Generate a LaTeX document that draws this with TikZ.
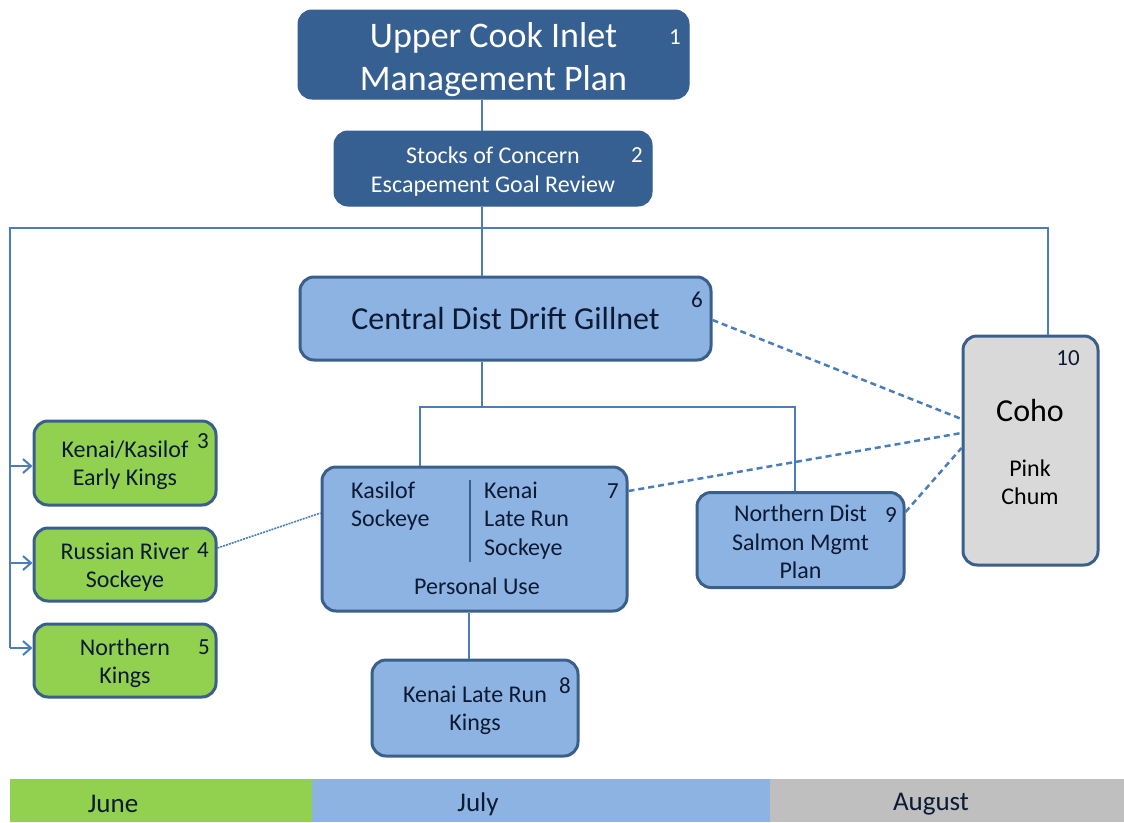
\documentclass[tikz,border=0pt]{standalone}
\usepackage{fontspec}
\setmainfont{Carlito}
\usetikzlibrary{arrows.meta}
\definecolor{dkblue}{HTML}{376092}
\definecolor{ltblue}{HTML}{8DB3E2}
\definecolor{bord}{HTML}{3A5F8B}
\definecolor{jgreen}{HTML}{92D050}
\definecolor{cgray}{HTML}{D9D9D9}
\definecolor{augray}{HTML}{BFBFBF}
\definecolor{conn}{HTML}{4A7EBB}
\definecolor{txt}{HTML}{0C1A33}
\begin{document}
\begin{tikzpicture}[x=1pt,y=-1pt,
  darkbox/.style={fill=dkblue, draw=dkblue, line width=1pt, rounded corners=14pt, inner sep=0pt},
  lbox/.style={fill=ltblue, draw=bord, line width=3pt, rounded corners=14pt, inner sep=0pt},
  gbox/.style={lbox, fill=jgreen},
  cbox/.style={lbox, fill=cgray},
  btxt/.style={inner sep=0pt, align=center, text=txt},
  wtxt/.style={btxt, text=white},
  small/.style={font=\fontsize{24}{28.5}\selectfont},
  num/.style={font=\fontsize{23}{26}\selectfont, inner sep=0pt},
  wnum/.style={num, text=white},
  dnum/.style={num, text=txt},
  conline/.style={draw=conn, line width=2pt},
  arr/.style={conline, -{Straight Barb[length=8pt,width=14pt,line width=2pt]}},
  dash1/.style={draw=conn, line width=2.5pt, dash pattern=on 6pt off 4pt},
  dash2/.style={draw=conn, line width=1.6pt, dash pattern=on 2pt off 1pt},
  mtext/.style={font=\fontsize{27}{30}\selectfont, text=txt, inner sep=0pt}
]
\useasboundingbox (0,0) rectangle (1124,822);

% boxes
\node[darkbox, minimum width=391, minimum height=89] (b1) at (493.5,54.5) {};
\node[darkbox, minimum width=318, minimum height=75] (b2) at (493,168.5) {};
\node[lbox, minimum width=411, minimum height=83] (b6) at (505.5,318.5) {};
\node[lbox, minimum width=305, minimum height=144] (b7) at (474.5,539) {};
\node[lbox, minimum width=206, minimum height=96] (b8) at (475,708) {};
\node[lbox, minimum width=207, minimum height=95] (b9) at (800.5,540) {};
\node[cbox, minimum width=135, minimum height=229] (b10) at (1030.5,450.5) {};
\node[gbox, minimum width=182, minimum height=84] (b3) at (125,463) {};
\node[gbox, minimum width=182, minimum height=73] (b4) at (125,564.5) {};
\node[gbox, minimum width=182, minimum height=73] (b5) at (125,660.5) {};

% box texts
\node[wtxt, font=\fontsize{36}{43}\selectfont] (b1t) at (493.5,59.5) {Upper Cook Inlet\\Management Plan};
\node[wtxt, small] (b2t) at (493,171.5) {Stocks of Concern\\Escapement Goal Review};
\node[btxt, font=\fontsize{32}{36}\selectfont] (b6t) at (505.5,319) {Central Dist Drift Gillnet};
\node[btxt, small] (b8t) at (475,710.5) {Kenai Late Run\\Kings};
\node[btxt, small] (b9t) at (800.5,542) {Northern Dist\\Salmon Mgmt\\Plan};
\node[btxt, small] (b3t) at (125,465) {Kenai/Kasilof\\Early Kings};
\node[btxt, small] (b4t) at (125,567) {Russian River\\Sockeye};
\node[btxt, small] (b5t) at (125,663) {Northern\\Kings};

% numbers
\node[wnum] (n1) at (675,37) {1};
\node[wnum] (n2) at (637,155) {2};
\node[dnum] (n6) at (697,300) {6};
\node[dnum] (n7) at (613,491) {7};
\node[dnum] (n8) at (565,686) {8};
\node[dnum] (n9) at (891,515) {9};
\node[dnum] (n10) at (1068,358) {10};
\node[dnum] (n3) at (203,441) {3};
\node[dnum] (n4) at (203,550) {4};
\node[dnum] (n5) at (204,647) {5};

% box 7 content
\node[small, text=txt, align=left, anchor=base west, inner sep=0pt] (k1) at (351,526.5) {Kasilof\\Sockeye};
\node[small, text=txt, align=left, anchor=base west, inner sep=0pt] (k2) at (484,555) {Kenai\\Late Run\\Sockeye};
\node[small, text=txt, inner sep=0pt, anchor=base] (pu) at (477,594) {Personal Use};
\coordinate (dv1) at (470,480);
\coordinate (dv2) at (470,562);
\draw[draw=bord, line width=2pt] (dv1) -- (dv2);

% box 10 content
\node[font=\fontsize{32}{36}\selectfont, text=black, inner sep=0pt] (coho) at (1030,410) {Coho};
\node[small, text=black, align=center, inner sep=0pt] (pc) at (1030,482) {Pink\\Chum};

% trunk connectors
\coordinate (t) at (482,228);
\coordinate (hl) at (10,228);
\coordinate (hr) at (1048,228);
\draw[conline] (b1.south -| t) -- (b2.north -| t);
\draw[conline] (b2.south -| t) -- (b6.north -| t);
\draw[conline] (b10.north -| hr) -- (hr) -- (hl) -- (10,648);
\coordinate (a3) at (10,466);
\coordinate (a4) at (10,563);
\coordinate (a5) at (10,648);
\draw[arr] (a3) -- (b3.west |- a3);
\draw[arr] (a4) -- (b4.west |- a4);
\draw[arr] (a5) -- (b5.west |- a5);

% branch under 6
\coordinate (br) at (482,407);
\coordinate (brl) at (420,407);
\coordinate (brr) at (795,407);
\draw[conline] (b6.south -| br) -- (br);
\draw[conline] (b7.north -| brl) -- (brl) -- (brr) -- (b9.north -| brr);
\draw[conline] (b7.south -| 469,0) -- (b8.north -| 469,0);

% dashed links
\draw[dash1] (b6.east |- 0,320) -- (b10.west |- 0,419);
\draw[dash1] (b7.east |- 0,491) -- (b10.west |- 0,433);
\draw[dash1] (b9.east |- 0,512) -- (b10.west |- 0,448);
\draw[dash2] (b4.east |- 0,548) -- (b7.west |- 0,513);

% month bar
\fill[jgreen] (10,779) rectangle (312,822);
\fill[ltblue] (312,779) rectangle (770,822);
\fill[augray] (770,779) rectangle (1124,822);
\node[mtext] (jun) at (113,804) {June};
\node[mtext] (jul) at (478,804) {July};
\node[mtext] (aug) at (931,804) {August};
\end{tikzpicture}
\end{document}
